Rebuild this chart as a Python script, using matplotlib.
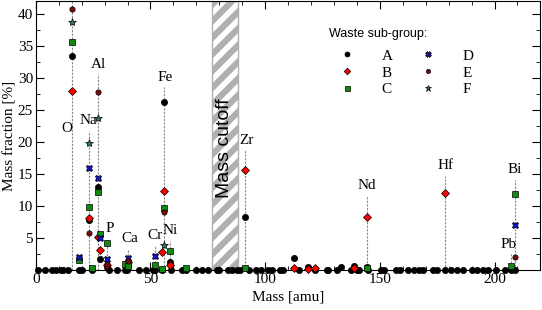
import matplotlib
matplotlib.use('Agg')
import matplotlib.pyplot as plt
from matplotlib.ticker import MultipleLocator

# Elements H..Bi with atomic masses (amu)
symbols = ['H', 'He', 'Li', 'Be', 'B', 'C', 'N', 'O', 'F', 'Ne', 'Na', 'Mg', 'Al', 'Si', 'P', 'S',
           'Cl', 'Ar', 'K', 'Ca', 'Sc', 'Ti', 'V', 'Cr', 'Mn', 'Fe', 'Co', 'Ni', 'Cu', 'Zn', 'Ga',
           'Ge', 'As', 'Se', 'Br', 'Kr', 'Rb', 'Sr', 'Y', 'Zr', 'Nb', 'Mo', 'Tc', 'Ru', 'Rh', 'Pd',
           'Ag', 'Cd', 'In', 'Sn', 'Sb', 'Te', 'I', 'Xe', 'Cs', 'Ba', 'La', 'Ce', 'Pr', 'Nd', 'Pm',
           'Sm', 'Eu', 'Gd', 'Tb', 'Dy', 'Ho', 'Er', 'Tm', 'Yb', 'Lu', 'Hf', 'Ta', 'W', 'Re', 'Os',
           'Ir', 'Pt', 'Au', 'Hg', 'Tl', 'Pb', 'Bi']
masses = [1.008, 4.003, 6.94, 9.012, 10.81, 12.011, 14.007, 15.999, 18.998, 20.18, 22.99, 24.305,
          26.982, 28.085, 30.974, 32.06, 35.45, 39.948, 39.098, 40.078, 44.956, 47.867, 50.942,
          51.996, 54.938, 55.845, 58.933, 58.693, 63.546, 65.38, 69.723, 72.63, 74.922, 78.971,
          79.904, 83.798, 85.468, 87.62, 88.906, 91.224, 92.906, 95.95, 98.0, 101.07, 102.91,
          106.42, 107.87, 112.41, 114.82, 118.71, 121.76, 127.6, 126.9, 131.29, 132.91, 137.33,
          138.91, 140.12, 140.91, 144.24, 145.0, 150.36, 151.96, 157.25, 158.93, 162.5, 164.93,
          167.26, 168.93, 173.05, 174.97, 178.49, 180.95, 183.84, 186.21, 190.23, 192.22, 195.08,
          196.97, 200.59, 204.38, 207.2, 208.98]

# mass fractions [%] per waste sub-group (elements not listed are zero)
group_a = {'O': 33.5, 'Na': 7.9, 'Al': 13.0, 'Si': 1.7, 'P': 0.5, 'Ca': 0.9, 'Fe': 26.3,
           'Ni': 1.3, 'Zr': 8.4, 'Cd': 1.9, 'Sn': 0.5, 'Cs': 0.5, 'La': 0.6, 'Nd': 0.5}
group_b = {'O': 28.0, 'Na': 8.1, 'Al': 5.2, 'Si': 3.1, 'P': 0.9, 'Ca': 1.3, 'Mn': 2.8,
           'Fe': 12.4, 'Ni': 0.8, 'Zr': 15.6, 'Cd': 0.3, 'Sn': 0.2, 'Sb': 0.3, 'La': 0.3,
           'Nd': 8.4, 'Hf': 12.0}
group_c = {'O': 35.7, 'F': 1.6, 'Na': 9.9, 'Mg': 0.4, 'Al': 12.2, 'Si': 5.7, 'P': 4.3,
           'K': 1.0, 'Ca': 0.6, 'Cr': 0.8, 'Mn': 0.2, 'Fe': 9.7, 'Ni': 3.0, 'Zn': 0.3,
           'Zr': 0.4, 'Nd': 0.3, 'Pb': 0.6, 'Bi': 11.9}
group_d = {'F': 2.1, 'Na': 16.0, 'Al': 14.4, 'Si': 5.1, 'P': 1.7, 'Ca': 1.9, 'Cr': 2.3,
           'Bi': 7.0}
group_e = {'O': 40.8, 'Na': 5.8, 'Al': 27.9, 'P': 1.0, 'Ca': 1.4, 'Fe': 9.1, 'Bi': 2.1}
group_f = {'O': 38.7, 'Na': 19.8, 'Al': 23.8, 'Fe': 4.0}
group_names = ['A', 'B', 'C', 'D', 'E', 'F']

# element annotations: label position and height of the guide line
label_symbols = ['O', 'Na', 'Al', 'P', 'Ca', 'Cr', 'Fe', 'Ni', 'Zr', 'Nd', 'Hf', 'Pb', 'Bi']
label_x = [13.4, 22.8, 27.5, 32.2, 41.0, 51.9, 56.6, 58.8, 91.8, 144.4, 178.5, 206.2, 209.0]
label_y = [22.2, 23.4, 32.2, 6.5, 4.9, 5.4, 30.1, 6.2, 20.3, 13.2, 16.3, 4.1, 15.7]
line_top = [42.0, 21.8, 30.7, 4.9, 3.3, 3.8, 28.6, 4.6, 18.8, 11.6, 14.7, 2.5, 14.1]

cutoff = (77, 88)

plt.rcParams['font.family'] = ['Liberation Serif', 'DejaVu Serif']
plt.rcParams['hatch.linewidth'] = 4.5
plt.rcParams['hatch.color'] = '#9a9a9a'

fig = plt.figure(figsize=(5.42, 3.10), dpi=100)
ax = fig.add_axes([0.066, 0.128, 0.931, 0.868])

# mass cutoff band
ax.axvspan(cutoff[0], cutoff[1], facecolor='white', edgecolor='#b0b0b0', hatch='//',
           linewidth=1.0, zorder=1)
ax.text(sum(cutoff) / 2, 19, 'Mass cutoff', rotation=90, ha='center', va='center',
        fontsize=14, family=['Liberation Sans', 'DejaVu Sans'], zorder=2)

# guide lines and element labels
mass_of = dict(zip(symbols, masses))
for sym, lx, ly, top in zip(label_symbols, label_x, label_y, line_top):
    ax.plot([mass_of[sym], mass_of[sym]], [0, top], color='#8a8a8a', lw=0.8,
            ls=(0, (2, 1.2)), zorder=1)
    ax.text(lx, ly, sym, ha='center', va='center', fontsize=11)

styles = [
    dict(marker='o', color='black', ms=4.5),
    dict(marker='D', color='#ff0000', ms=4.2),
    dict(marker='s', color='#118a11', ms=4.5),
    dict(marker='X', color='#1010c8', ms=5.0),
    dict(marker='o', color='#7a0a0a', ms=3.8),
    dict(marker='*', color='#2a7878', ms=6.0),
]
groups = [group_a, group_b, group_c, group_d, group_e, group_f]
for i, (name, grp, st) in enumerate(zip(group_names, groups, styles)):
    if i == 0:
        xs = masses
        ys = [grp.get(s, 0.0) for s in symbols]
    else:
        xs = [mass_of[s] for s in grp]
        ys = list(grp.values())
    ax.plot(xs, ys, ls='none', marker=st['marker'], ms=st['ms'], mfc=st['color'],
            mec='black', mew=0.5, label=name, clip_on=False, zorder=3 + i)

ax.set_xlim(0, 220)
ax.set_ylim(0, 42)
ax.set_xticks([0, 50, 100, 150, 200])
ax.xaxis.set_minor_locator(MultipleLocator(10))
ax.set_yticks([5, 10, 15, 20, 25, 30, 35, 40])
ax.yaxis.set_minor_locator(MultipleLocator(2.5))
ax.tick_params(which='both', direction='in', top=True, right=True, labelsize=11, pad=2)
ax.tick_params(which='major', length=6)
ax.tick_params(which='minor', length=3)
ax.set_xlabel('Mass [amu]', fontsize=11, labelpad=3)
ax.set_ylabel('Mass fraction [%]', fontsize=11, labelpad=1)

# legend title drawn as its own text, entries below it
ax.text(0.582, 0.88, 'Waste sub-group:', transform=ax.transAxes, ha='left', va='center',
        fontsize=9, family=['Liberation Sans', 'DejaVu Sans'])
leg = ax.legend(ncol=2, frameon=False, loc='upper left', bbox_to_anchor=(0.581, 0.862),
                fontsize=11, handletextpad=1.76, columnspacing=1.8, labelspacing=0.2,
                markerscale=0.8, handlelength=1.0, borderpad=0.2)

fig.savefig('out.png', dpi=100)
